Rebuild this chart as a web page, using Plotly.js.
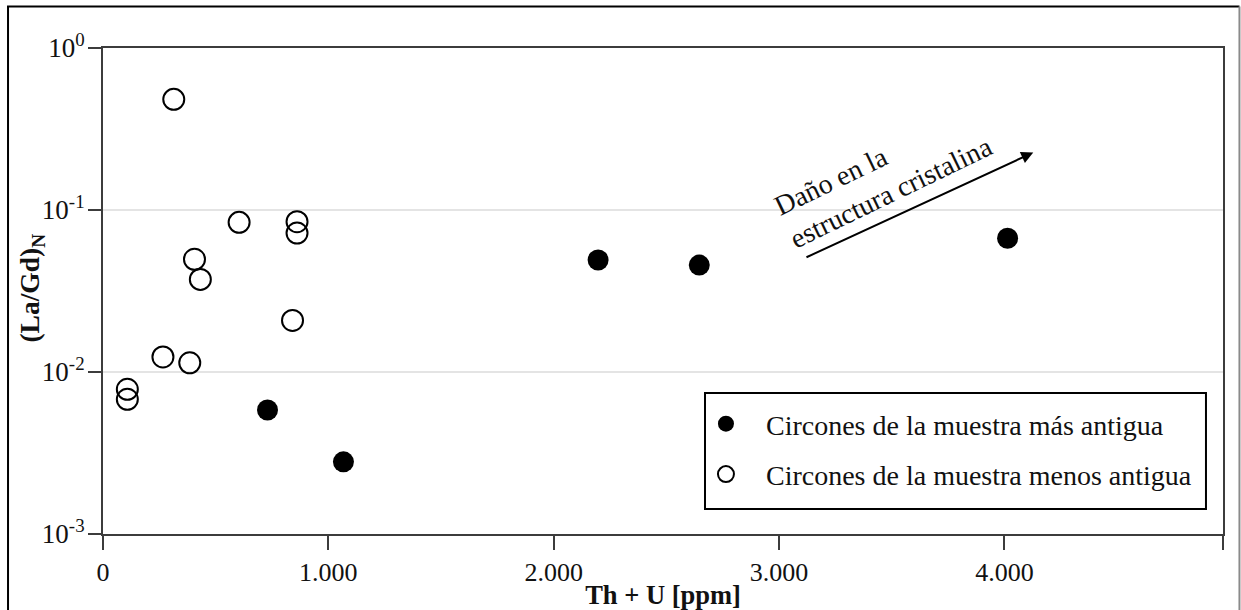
<!DOCTYPE html>
<html>
<head>
<meta charset="utf-8">
<script src="https://cdn.plot.ly/plotly-3.0.1.min.js"></script>
<style>
  html, body { margin: 0; padding: 0; background: #ffffff; }
  #chart { width: 1241px; height: 610px; }
</style>
</head>
<body>
<div id="chart"></div>
<script>
// Th + U (ppm) vs chondrite-normalised La/Gd for zircons of two samples
const olderThU   = [730, 1067, 2197, 2646, 4014];
const olderLaGd  = [0.00583, 0.00279, 0.0491, 0.0457, 0.0669];

const youngerThU  = [314, 604, 861, 861, 406, 432, 841, 266, 385, 108, 108];
const youngerLaGd = [0.482, 0.0839, 0.0847, 0.0721, 0.0496, 0.0373, 0.0208, 0.01238, 0.0114, 0.00782, 0.00678];

const olderName   = 'Circones de la muestra más antigua';
const youngerName = 'Circones de la muestra menos antigua';

const xTickVals = [0, 1000, 2000, 3000, 4000, 4970];
const xTickText = ['0', '1.000', '2.000', '3.000', '4.000', ''];
const yTickVals = [0.001, 0.01, 0.1, 1];
const yTickText = ['10<sup>-3</sup>', '10<sup>-2</sup>', '10<sup>-1</sup>', '10<sup>0</sup>'];

const serif = 'Liberation Serif, Times New Roman, serif';
const ink = '#111111';
const axisInk = '#3c3c3c';

const traces = [
  {
    type: 'scatter', mode: 'markers', name: olderName,
    x: olderThU, y: olderLaGd, legendgroup: 'old',
    marker: { symbol: 'circle', size: 21, color: '#000000' },
    hoverinfo: 'x+y'
  },
  {
    type: 'scatter', mode: 'markers', name: youngerName,
    x: youngerThU, y: youngerLaGd, legendgroup: 'young',
    marker: { symbol: 'circle-open', size: 21, color: '#000000', line: { width: 2, color: '#000000' } },
    hoverinfo: 'x+y'
  }
];

const layout = {
  width: 1241, height: 610,
  margin: { l: 103, r: 18, t: 48, b: 76 },
  paper_bgcolor: '#ffffff', plot_bgcolor: '#ffffff',
  font: { family: serif, size: 26, color: ink },
  showlegend: true,
  legend: {
    x: 0.5205, y: 0.2778, xanchor: 'left', yanchor: 'top',
    bgcolor: 'rgba(0,0,0,0)', borderwidth: 0,
    font: { family: serif, size: 28, color: ink },
    tracegroupgap: 11, itemwidth: 70
  },
  xaxis: {
    range: [0, 4970], type: 'linear',
    tickmode: 'array', tickvals: xTickVals, ticktext: xTickText,
    ticks: 'outside', ticklen: 14, tickwidth: 2, tickcolor: axisInk,
    showline: true, linewidth: 2, linecolor: axisInk, mirror: true,
    showgrid: false, zeroline: false,
    tickfont: { family: serif, size: 26, color: ink },
    title: { text: '<b>Th + U [ppm]</b>', font: { family: serif, size: 26.5, color: ink }, standoff: 4 }
  },
  yaxis: {
    type: 'log', range: [-3, 0],
    tickmode: 'array', tickvals: yTickVals, ticktext: yTickText,
    ticks: 'outside', ticklen: 13, tickwidth: 2, tickcolor: axisInk,
    ticklabelstandoff: -2,
    showline: true, linewidth: 2, linecolor: axisInk, mirror: true,
    showgrid: true, gridcolor: '#e4e4e4', gridwidth: 2, zeroline: false,
    tickfont: { family: serif, size: 27, color: ink }
  },
  shapes: [
    // page frame
    { type: 'path', xref: 'paper', yref: 'paper',
      path: 'M -0.0848 -0.3 L -0.0848 1.0854 L 1.0147 1.0854',
      line: { color: '#000000', width: 2 } },
    { type: 'line', xref: 'paper', yref: 'paper',
      x0: 1.0147, x1: 1.0147, y0: 1.0854, y1: -0.3,
      line: { color: '#8a8a8a', width: 2 } },
    // legend box
    { type: 'rect', xref: 'paper', yref: 'paper', layer: 'above',
      x0: 0.5375, x1: 0.9848, y0: 0.0514, y1: 0.2901,
      line: { color: '#000000', width: 2 }, fillcolor: 'rgba(0,0,0,0)' }
  ],
  annotations: [
    // y-axis title
    { xref: 'paper', yref: 'paper', x: -0.0634, y: 0.507,
      text: '<b>(La/Gd)<sub>N</sub></b>', showarrow: false, textangle: -90,
      xanchor: 'center', yanchor: 'middle',
      font: { family: serif, size: 27.5, color: ink } },
    // trend arrow and its label
    { xref: 'x', yref: 'y', axref: 'x', ayref: 'y',
      x: 4128, y: -0.645, ax: 3115, ay: -1.296,
      text: '', showarrow: true, arrowhead: 2, arrowsize: 1.2, arrowwidth: 2, arrowcolor: '#000000' },
    { xref: 'x', yref: 'y', x: 3465, y: -0.789,
      text: 'Daño en la<br>estructura cristalina', showarrow: false,
      textangle: -25.8, align: 'left', xanchor: 'center', yanchor: 'middle',
      font: { family: serif, size: 28, color: ink } }
  ]
};

Plotly.newPlot('chart', traces, layout, { staticPlot: true, displayModeBar: false });
</script>
</body>
</html>
